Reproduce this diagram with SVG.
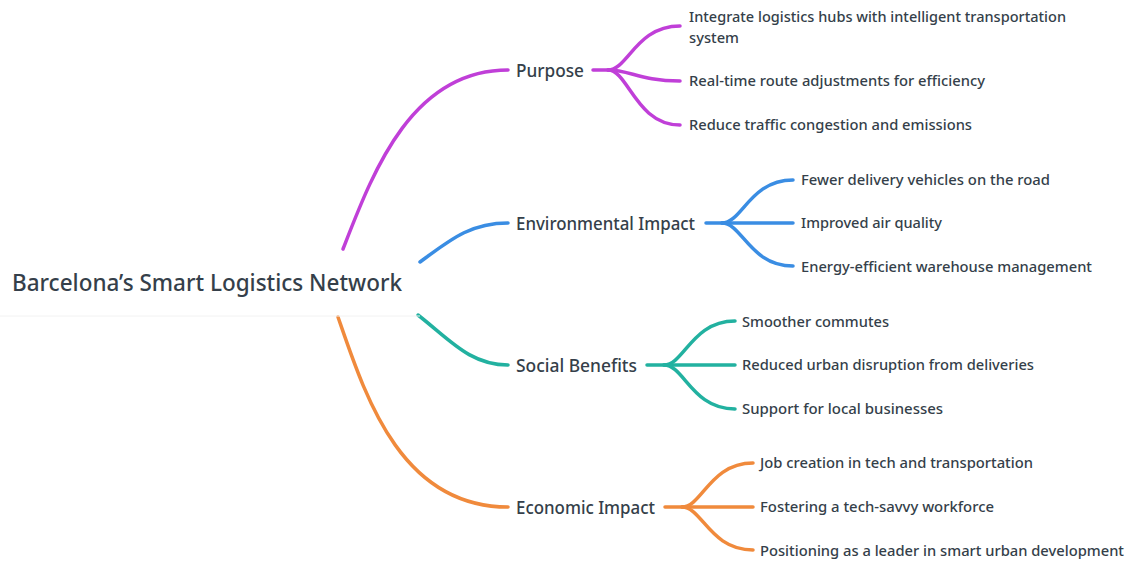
<svg xmlns="http://www.w3.org/2000/svg" width="1128" height="561" viewBox="0 0 1128 561">
<style>
  text { font-family: "Noto Sans", "Liberation Sans", sans-serif; fill: #353f4a; }
  .root { font-size: 23px; font-weight: 500; }
  .branch { font-size: 18px; font-weight: 500; }
  .leaf { font-size: 14px; font-weight: 500; }
  .c { fill: none; stroke-width: 3.5; stroke-linecap: round; }
  .purple { stroke: #c03fd8; }
  .blue { stroke: #3a8de3; }
  .teal { stroke: #22b1a0; }
  .orange { stroke: #f08a3c; }
</style>
<rect width="1128" height="561" fill="#ffffff"/>
<g id="connectors">
  <path class="c purple" d="M343,249 C372,175 410,70 508,70"/>
  <path class="c blue" d="M420,262 C450,240 470,223 508,223"/>
  <path class="c teal" d="M418,315 C450,340 470,365 508,365"/>
  <path class="c orange" d="M338,317 C365,395 400,507 508,507"/>

  <path class="c purple" d="M593,70 L608,70 C628,70 636,26 680,26"/>
  <path class="c purple" d="M608,70 C630,70 640,81 680,81"/>
  <path class="c purple" d="M608,70 C628,70 636,125 680,125"/>

  <path class="c blue" d="M706,223 L722,223 C742,223 750,180 793,180"/>
  <path class="c blue" d="M722,223 L793,223"/>
  <path class="c blue" d="M722,223 C742,223 750,266 793,266"/>

  <path class="c teal" d="M647,365 L664,365 C684,365 692,321 735,321"/>
  <path class="c teal" d="M664,365 L735,365"/>
  <path class="c teal" d="M664,365 C684,365 692,409 735,409"/>

  <path class="c orange" d="M665,507 L682,507 C702,507 710,463 753,463"/>
  <path class="c orange" d="M682,507 L753,507"/>
  <path class="c orange" d="M682,507 C702,507 710,550 753,550"/>
</g>
<g id="root">
  <line x1="0" y1="316" x2="420" y2="316" stroke="#f2f2f2" stroke-width="1"/>
  <text class="root" x="12" y="291" textLength="390" lengthAdjust="spacingAndGlyphs">Barcelona’s Smart Logistics Network</text>
</g>
<g id="purpose">
  <text class="branch" x="516" y="77" textLength="68" lengthAdjust="spacingAndGlyphs">Purpose</text>
</g>
<g id="env">
  <text class="branch" x="516" y="230" textLength="179" lengthAdjust="spacingAndGlyphs">Environmental Impact</text>
</g>
<g id="social">
  <text class="branch" x="516" y="372" textLength="121" lengthAdjust="spacingAndGlyphs">Social Benefits</text>
</g>
<g id="economic">
  <text class="branch" x="516" y="514" textLength="139" lengthAdjust="spacingAndGlyphs">Economic Impact</text>
</g>
<g id="purpose-leaves">
  <text class="leaf" x="689" y="22" textLength="377" lengthAdjust="spacingAndGlyphs">Integrate logistics hubs with intelligent transportation</text>
  <text class="leaf" x="689" y="43" textLength="50" lengthAdjust="spacingAndGlyphs">system</text>
  <text class="leaf" x="689" y="86" textLength="296" lengthAdjust="spacingAndGlyphs">Real-time route adjustments for efficiency</text>
  <text class="leaf" x="689" y="130" textLength="283" lengthAdjust="spacingAndGlyphs">Reduce traffic congestion and emissions</text>
</g>
<g id="env-leaves">
  <text class="leaf" x="801" y="185" textLength="249" lengthAdjust="spacingAndGlyphs">Fewer delivery vehicles on the road</text>
  <text class="leaf" x="801" y="228" textLength="141" lengthAdjust="spacingAndGlyphs">Improved air quality</text>
  <text class="leaf" x="801" y="272" textLength="291" lengthAdjust="spacingAndGlyphs">Energy-efficient warehouse management</text>
</g>
<g id="social-leaves">
  <text class="leaf" x="742" y="327" textLength="147" lengthAdjust="spacingAndGlyphs">Smoother commutes</text>
  <text class="leaf" x="742" y="370" textLength="292" lengthAdjust="spacingAndGlyphs">Reduced urban disruption from deliveries</text>
  <text class="leaf" x="742" y="414" textLength="201" lengthAdjust="spacingAndGlyphs">Support for local businesses</text>
</g>
<g id="economic-leaves">
  <text class="leaf" x="760" y="468" textLength="273" lengthAdjust="spacingAndGlyphs">Job creation in tech and transportation</text>
  <text class="leaf" x="760" y="512" textLength="234" lengthAdjust="spacingAndGlyphs">Fostering a tech-savvy workforce</text>
  <text class="leaf" x="760" y="556" textLength="364" lengthAdjust="spacingAndGlyphs">Positioning as a leader in smart urban development</text>
</g>
</svg>
